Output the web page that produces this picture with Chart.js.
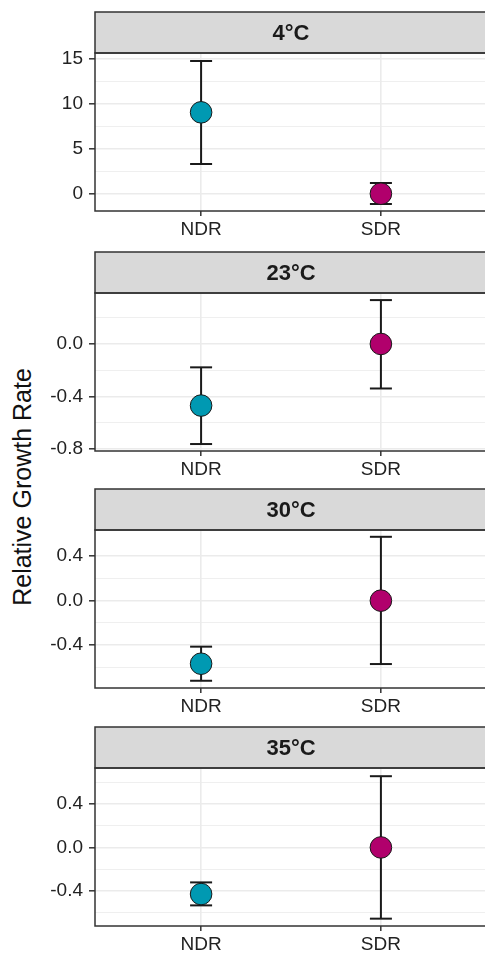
<!DOCTYPE html>
<html><head><meta charset="utf-8">
<script src="https://cdn.jsdelivr.net/npm/chart.js@4.4.1/dist/chart.umd.min.js"></script>
<style>
html,body{margin:0;padding:0;background:#fff;overflow:hidden;width:485px;height:955px;}
#wrap{position:relative;width:485px;height:955px;overflow:hidden;background:#fff;}
canvas{position:absolute;left:0;}
#ytitle{position:absolute;width:320px;height:30px;line-height:30px;text-align:center;font-size:25px;font-family:"Liberation Sans",Arial,sans-serif;color:#111;white-space:nowrap;transform:rotate(-90deg);left:-138px;top:472px;}
</style></head><body>
<div id="wrap"><div id="ytitle">Relative Growth Rate</div></div>
<script>
// ---- data ----
const categories = ['NDR', 'SDR'];
const panelTitles = ['4°C', '23°C', '30°C', '35°C'];
const ndrMean = [9.04, -0.469, -0.566, -0.432];
const ndrLow  = [3.30, -0.762, -0.719, -0.537];
const ndrHigh = [14.74, -0.178, -0.413, -0.324];
const sdrMean = [0, 0, 0, 0];
const sdrLow  = [-1.14, -0.339, -0.569, -0.66];
const sdrHigh = [1.19, 0.334, 0.573, 0.66];
const yMin = [-1.92, -0.815, -0.784, -0.728];
const yMax = [15.63, 0.388, 0.634, 0.736];
const majorTicks = [[0, 5, 10, 15], [-0.8, -0.4, 0.0], [-0.4, 0.0, 0.4], [-0.4, 0.0, 0.4]];
const majorLabels = [['0', '5', '10', '15'], ['-0.8', '-0.4', '0.0'], ['-0.4', '0.0', '0.4'], ['-0.4', '0.0', '0.4']];
const minorTicks = [[2.5, 7.5, 12.5], [-0.6, -0.2, 0.2], [-0.6, -0.2, 0.2], [-0.6, -0.2, 0.2, 0.6]];
const pointColors = ['#0099B2', '#B1006C'];

// ---- layout ----
const stripTops = [12, 252, 489, 727];
const STRIP_H = 41, PLOT_H = 158, OFF = 4, CANVAS_W = 490, CANVAS_H = 240, AXIS_W = 95;

Chart.defaults.font.family = '"Liberation Sans", Arial, sans-serif';

const stripPlugin = {
  id: 'strip',
  afterDraw(chart, args, opts) {
    const {ctx, chartArea: a} = chart;
    ctx.save();
    ctx.fillStyle = '#d9d9d9';
    ctx.fillRect(a.left, a.top - STRIP_H, a.right - a.left, STRIP_H);
    ctx.strokeStyle = '#333333';
    ctx.lineWidth = 1.5;
    ctx.strokeRect(a.left, a.top - STRIP_H, a.right - a.left, STRIP_H);
    ctx.strokeRect(a.left, a.top, a.right - a.left, a.bottom - a.top);
    ctx.fillStyle = '#1a1a1a';
    ctx.font = 'bold 22px "Liberation Sans", Arial, sans-serif';
    ctx.textAlign = 'center';
    ctx.textBaseline = 'middle';
    ctx.fillText(opts.title, (a.left + a.right) / 2, a.top - STRIP_H / 2 + 1);
    ctx.restore();
  }
};

function isMajor(p, v) { return majorTicks[p].some(m => Math.abs(m - v) < 1e-9); }

const wrap = document.getElementById('wrap');
for (let p = 0; p < 4; p++) {
  const cv = document.createElement('canvas');
  cv.width = CANVAS_W; cv.height = CANVAS_H;
  cv.style.width = CANVAS_W + 'px'; cv.style.height = CANVAS_H + 'px';
  cv.style.top = (stripTops[p] - OFF) + 'px';
  wrap.appendChild(cv);

  const means = [ndrMean[p], sdrMean[p]];
  const lows = [ndrLow[p], sdrLow[p]];
  const highs = [ndrHigh[p], sdrHigh[p]];
  const datasets = [];
  datasets.push({
    type: 'scatter', data: categories.map((c, i) => ({x: i, y: means[i]})),
    backgroundColor: pointColors, borderColor: '#1a1a1a', borderWidth: 1,
    pointRadius: 10.8, order: 0
  });
  datasets.push({
    type: 'scatter',
    data: categories.flatMap((c, i) => [{x: i, y: lows[i]}, {x: i, y: highs[i]}]),
    pointStyle: 'line', pointRadius: 11, borderColor: '#1a1a1a', borderWidth: 2, order: 1
  });
  categories.forEach((c, i) => {
    datasets.push({
      type: 'line', data: [{x: i, y: lows[i]}, {x: i, y: highs[i]}],
      borderColor: '#1a1a1a', borderWidth: 2, pointRadius: 0, order: 2
    });
  });

  const allTicks = majorTicks[p].concat(minorTicks[p]).sort((a, b) => a - b);

  new Chart(cv, {
    type: 'scatter',
    data: {datasets},
    options: {
      responsive: false, animation: false, events: [],
      layout: {autoPadding: false, padding: {top: STRIP_H + OFF, right: 3, left: 0, bottom: 0}},
      plugins: {legend: {display: false}, tooltip: {enabled: false}, strip: {title: panelTitles[p]}},
      scales: {
        x: {
          type: 'linear', min: -0.59, max: 1.59,
          afterBuildTicks: s => { s.ticks = categories.map((c, i) => ({value: i})); },
          afterFit: s => { s.height = CANVAS_H - (STRIP_H + OFF) - PLOT_H; s.paddingLeft = 0; s.paddingRight = 0; },
          ticks: {callback: v => categories[v], color: '#222222', font: {size: 19}, padding: 2, maxRotation: 0, autoSkip: false},
          grid: {color: '#ebebeb', lineWidth: 1.6, tickColor: '#333333', tickLength: 5, tickWidth: 1.5},
          border: {display: false}
        },
        y: {
          type: 'linear', min: yMin[p], max: yMax[p],
          afterBuildTicks: s => { s.ticks = allTicks.map(v => ({value: v})); },
          afterFit: s => { s.width = AXIS_W; },
          ticks: {
            callback: v => { const k = majorTicks[p].findIndex(m => Math.abs(m - v) < 1e-9); return k >= 0 ? majorLabels[p][k] : ''; },
            color: '#222222', font: {size: 19}, padding: 6, autoSkip: false
          },
          grid: {
            color: '#ebebeb',
            lineWidth: ctx => isMajor(p, ctx.tick.value) ? 1.6 : 0.8,
            tickColor: ctx => isMajor(p, ctx.tick.value) ? '#333333' : 'rgba(0,0,0,0)',
            tickLength: 6, tickWidth: 1.5
          },
          border: {display: false}
        }
      }
    },
    plugins: [stripPlugin]
  });
}
</script>
</body></html>
